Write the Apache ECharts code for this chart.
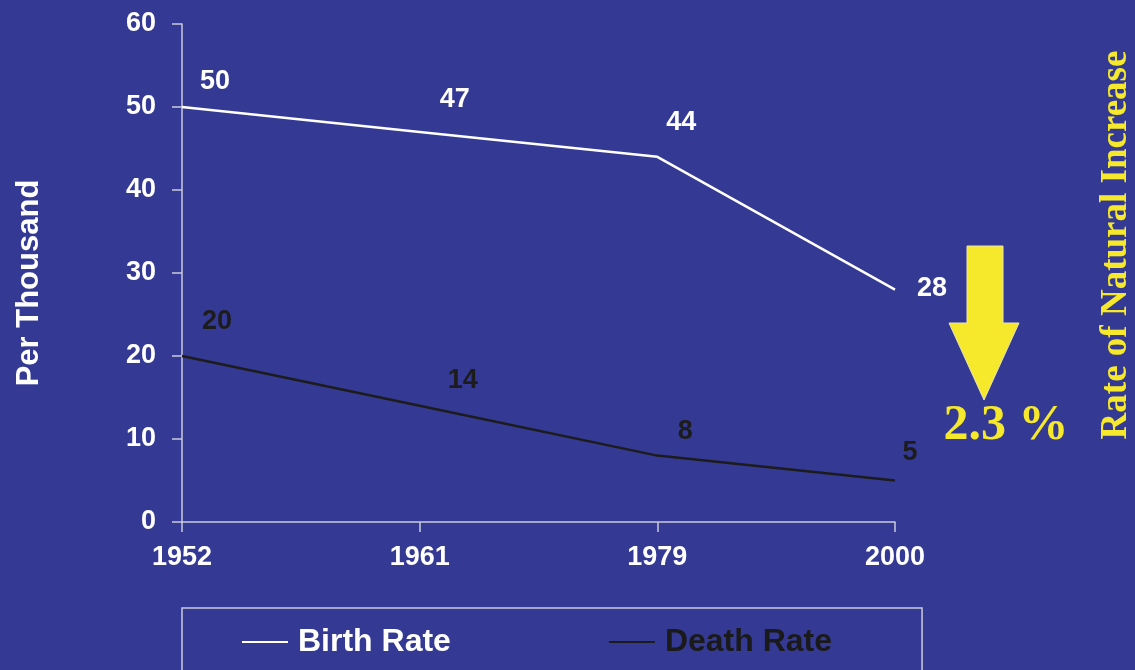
<!DOCTYPE html>
<html>
<head>
<meta charset="utf-8">
<script src="https://cdn.jsdelivr.net/npm/echarts@6/dist/echarts.min.js"></script>
<style>
  html, body { margin: 0; padding: 0; background: #343a94; }
  #chart { width: 1135px; height: 670px; }
</style>
</head>
<body>
<div id="chart"></div>
<script>
var years = ['1952', '1961', '1979', '2000']
var birthRate = [50, 47, 44, 28]
var deathRate = [20, 14, 8, 5]
var yTicks = [0, 10, 20, 30, 40, 50, 60]

// where each value label sits, relative to its point
var birthLabelShift = [[33, -12], [35, -19], [24, -21], [37, 12]]
var deathLabelShift = [[35, -21], [43, -12], [28, -11], [15, -14]]

var sans = 'Liberation Sans, Arial, sans-serif'
var serif = 'Liberation Serif, Times New Roman, serif'
var axisGrey = '#c9cadb'
var yellow = '#f6e82a'

function makeData(values, shifts){
    var out = []
    values.forEach(function(v, i){
        out.push({ value: v, label: { offset: shifts[i] } })
    })
    return out
}

function lineSeries(name, values, shifts, color){
    return {
        name: name,
        type: 'line',
        data: makeData(values, shifts),
        color: color,
        symbol: 'circle',
        symbolSize: 0,
        lineStyle: { width: 2.5, color: color },
        label: {
            show: true,
            position: 'top',
            distance: 0,
            color: color,
            fontFamily: sans,
            fontWeight: 'bold',
            fontSize: 27
        },
        emphasis: { disabled: true }
    }
}

var chart = echarts.init(document.getElementById('chart'))

var option = {
    backgroundColor: '#343a94',
    animation: false,
    grid: { left: 182, right: 240, top: 24, bottom: 148 },
    xAxis: {
        type: 'category',
        data: years,
        boundaryGap: false,
        axisLine: { lineStyle: { color: axisGrey, width: 1.5 } },
        axisTick: { show: true, length: 10, lineStyle: { color: axisGrey, width: 1.5 } },
        axisLabel: {
            color: '#ffffff', fontFamily: sans, fontWeight: 'bold', fontSize: 27, margin: 22
        }
    },
    yAxis: {
        type: 'value',
        min: yTicks[0],
        max: yTicks[yTicks.length - 1],
        interval: 10,
        name: 'Per Thousand',
        nameLocation: 'middle',
        nameRotate: 90,
        nameGap: 137,
        nameTextStyle: {
            color: '#ffffff', fontFamily: sans, fontWeight: 'bold', fontSize: 31,
            padding: [0, 20, 0, 0]
        },
        axisLine: { show: true, lineStyle: { color: axisGrey, width: 1.5 } },
        axisTick: { show: true, length: 10, lineStyle: { color: axisGrey, width: 1.5 } },
        splitLine: { show: false },
        axisLabel: {
            color: '#ffffff', fontFamily: sans, fontWeight: 'bold', fontSize: 27, margin: 26
        }
    },
    legend: {
        left: 182,
        top: 608,
        padding: [18, 90, 40, 60],
        itemGap: 158,
        itemWidth: 46,
        itemHeight: 2,
        icon: 'rect',
        borderColor: axisGrey,
        borderWidth: 1.5,
        selectedMode: false,
        textStyle: { fontFamily: sans, fontWeight: 'bold', fontSize: 32, padding: [0, 0, 0, 5] },
        data: [
            { name: 'Birth Rate', textStyle: { color: '#ffffff' } },
            { name: 'Death Rate', textStyle: { color: '#1a1a1a' } }
        ]
    },
    series: [
        lineSeries('Birth Rate', birthRate, birthLabelShift, '#ffffff'),
        lineSeries('Death Rate', deathRate, deathLabelShift, '#1c1c1c')
    ],
    graphic: [
        {
            type: 'polygon',
            shape: {
                points: [[967, 246], [1003, 246], [1003, 323], [1019, 323],
                         [984, 400], [949, 323], [967, 323]]
            },
            style: { fill: yellow, stroke: '#e8e4b0', lineWidth: 1 }
        },
        {
            type: 'text',
            x: 1006,
            y: 426,
            style: {
                text: '2.3 %',
                fill: yellow,
                font: 'bold 50px ' + serif,
                textAlign: 'center',
                textVerticalAlign: 'middle'
            }
        },
        {
            type: 'text',
            x: 1116,
            y: 245,
            rotation: Math.PI / 2,
            style: {
                text: 'Rate of Natural Increase',
                fill: yellow,
                font: 'bold 37px ' + serif,
                textAlign: 'center',
                textVerticalAlign: 'middle'
            }
        }
    ]
}

chart.setOption(option)
</script>
</body>
</html>
